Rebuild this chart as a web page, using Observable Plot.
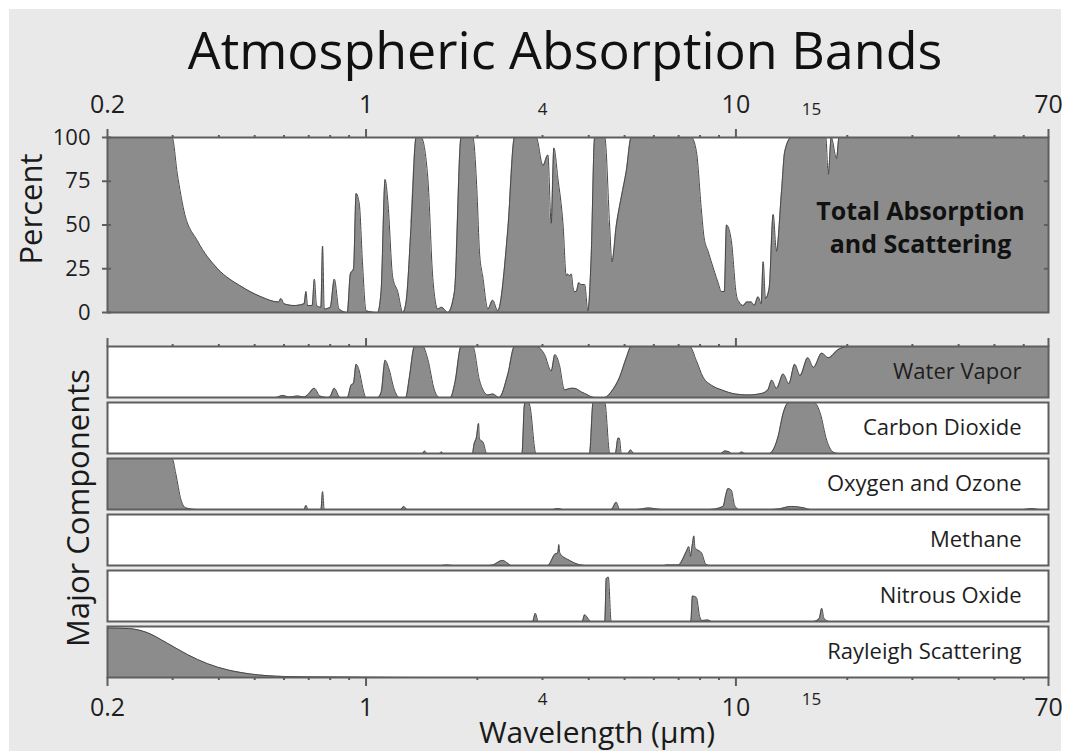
<!DOCTYPE html>
<html><head><meta charset="utf-8">
<script src="https://cdn.jsdelivr.net/npm/d3@7"></script>
<script src="https://cdn.jsdelivr.net/npm/@observablehq/plot@0.6"></script>
<style>
body{margin:0;background:#fff;font-family:"Open Sans",sans-serif;}
#wrap{position:relative;width:1067px;height:751px;overflow:hidden;background:#fff;}
#bg{position:absolute;left:9px;top:9px;right:6px;bottom:0;background:#e9e9e9;}
.lbl{position:absolute;color:#1a1a1a;white-space:nowrap;font-family:"Open Sans",sans-serif;}
.rot{transform:translate(-50%,-50%) rotate(-90deg);}
#title{left:0;width:1130px;text-align:center;top:23px;font-size:52px;line-height:52px;color:#111;}
#percent{left:30px;top:209px;font-size:31px;}
#major{left:77px;top:508px;font-size:31px;}
#wl{left:597px;top:717px;font-size:30px;line-height:30px;transform:translateX(-50%);}
.plot{position:absolute;left:0;width:1067px;}
.plot svg{overflow:visible;}
</style></head>
<body>
<div id="wrap">
<div id="bg"></div>
<div id="title" class="lbl">Atmospheric Absorption Bands</div>
<div id="percent" class="lbl rot">Percent</div>
<div id="major" class="lbl rot">Major Components</div>
<div id="topPlot" class="plot" style="top:0"></div>
<div id="botPlot" class="plot" style="top:330px"></div>
<div id="wl" class="lbl">Wavelength (µm)</div>
</div>
<script>
// ---- data: [wavelength (µm), value] ----
const totalAbsorption = [[0.2,100],[0.299,100],[0.309,79],[0.322,58],[0.35,41],[0.397,25],[0.459,15],[0.52,9],[0.58,6],[0.589,8],[0.60,5],[0.64,4],[0.68,5],[0.688,12],[0.695,4],[0.715,4],[0.725,19],[0.735,4],[0.755,3],[0.763,38],[0.771,2],[0.80,3],[0.821,19],[0.845,2],[0.89,0],[0.907,22],[0.925,25],[0.94,68],[0.959,62],[0.979,27],[1.0,1],[1.075,0],[1.098,12],[1.126,76],[1.145,64],[1.181,20],[1.218,12],[1.257,0],[1.283,6],[1.324,50],[1.366,100],[1.409,100],[1.469,77],[1.515,20],[1.563,2],[1.60,3],[1.664,0],[1.734,12],[1.807,100],[1.944,100],[1.997,67],[2.026,35],[2.07,20],[2.135,2],[2.20,7],[2.27,1],[2.418,48],[2.52,100],[2.884,100],[3.008,84],[3.102,90],[3.167,51],[3.22,94],[3.30,77],[3.41,50],[3.478,21],[3.51,22],[3.55,21],[3.588,22],[3.63,14],[3.66,12],[3.70,12],[3.76,17],[3.82,16],[3.90,16],[3.98,1],[4.06,31],[4.15,100],[4.42,100],[4.556,50],[4.62,29],[4.75,50],[4.90,66],[5.055,81],[5.21,100],[7.58,100],[7.82,92],[8.07,58],[8.2,43],[8.41,35],[8.55,30],[8.76,23],[8.95,17],[9.14,12],[9.3,12],[9.43,50],[9.72,41],[10.03,10],[10.2,6],[10.46,4],[10.7,6],[11.01,6],[11.2,4],[11.48,9],[11.7,5],[11.85,29],[12.02,8],[12.3,14],[12.61,56],[12.87,35],[13.28,69],[13.55,92],[14.13,100],[17.5,100],[17.77,79],[18.1,100],[18.71,88],[19.0,100],[70,100]];
const waterVapor = [[0.2,0],[0.57,0],[0.595,0.04],[0.62,0.01],[0.653,0.03],[0.68,0.01],[0.695,0.05],[0.725,0.18],[0.75,0.03],[0.79,0],[0.80,0.02],[0.821,0.18],[0.85,0],[0.89,0],[0.911,0.24],[0.925,0.28],[0.94,0.65],[0.959,0.52],[0.979,0.2],[1.0,0],[1.075,0],[1.10,0.12],[1.126,0.73],[1.15,0.59],[1.193,0.15],[1.23,0],[1.28,0],[1.31,0.4],[1.352,1],[1.424,1],[1.469,0.75],[1.53,0.15],[1.58,0],[1.69,0],[1.74,0.3],[1.807,1],[1.944,1],[2.026,0.34],[2.135,0.05],[2.20,0.07],[2.29,0],[2.418,0.46],[2.52,1],[2.884,1],[3.04,0.84],[3.167,0.52],[3.24,0.84],[3.33,0.65],[3.44,0.15],[3.588,0.18],[3.66,0.18],[3.82,0.11],[3.90,0.08],[4.15,0],[4.42,0],[4.60,0.11],[4.85,0.4],[5.055,0.78],[5.21,1],[7.50,1],[7.82,0.72],[8.15,0.4],[8.59,0.24],[9.14,0.15],[9.95,0.07],[10.78,0.05],[11.75,0.08],[12.2,0.15],[12.5,0.34],[12.87,0.18],[13.42,0.46],[13.9,0.27],[14.42,0.65],[14.9,0.43],[15.64,0.78],[16.2,0.59],[17.06,0.87],[17.77,0.78],[18.9,0.94],[20.1,1],[70,1]];
const carbonDioxide = [[0.2,0],[1.42,0],[1.44,0.05],[1.46,0],[1.58,0],[1.6,0.03],[1.62,0],[1.94,0],[1.956,0.16],[1.99,0.33],[2.015,0.59],[2.025,0.3],[2.04,0.26],[2.07,0.23],[2.12,0],[2.64,0],[2.68,0.95],[2.70,1],[2.74,1],[2.77,0.95],[2.88,0],[4.02,0],[4.11,1],[4.42,1],[4.56,0],[4.72,0],[4.80,0.3],[4.84,0.3],[4.9,0],[5.1,0],[5.19,0.07],[5.3,0],[9.1,0],[9.33,0.05],[9.6,0.03],[9.72,0],[10.2,0],[10.34,0.03],[10.6,0],[12.3,0],[13.0,0.33],[13.42,0.79],[13.9,1],[16.3,1],[16.9,0.79],[17.6,0.26],[18.3,0.03],[18.9,0],[70,0]];
const oxygenOzone = [[0.2,1],[0.299,1],[0.306,0.7],[0.316,0.19],[0.326,0.03],[0.35,0],[0.68,0],[0.688,0.08],[0.697,0],[0.755,0],[0.763,0.35],[0.771,0],[1.24,0],[1.265,0.06],[1.29,0],[3.2,0],[3.30,0.02],[3.4,0],[4.6,0],[4.75,0.14],[4.85,0],[5.4,0],[5.8,0.03],[6.3,0],[8.5,0],[9.23,0.06],[9.4,0.3],[9.52,0.41],[9.72,0.38],[9.9,0.1],[10.03,0.03],[10.2,0],[12.5,0],[13.0,0.01],[14.13,0.06],[15.3,0.03],[15.9,0],[60,0],[63,0.02],[66,0],[70,0]];
const methane = [[0.2,0],[1.6,0],[1.646,0.01],[1.72,0],[2.15,0],[2.20,0.01],[2.34,0.1],[2.42,0.04],[2.47,0],[3.1,0],[3.24,0.22],[3.30,0.25],[3.32,0.41],[3.34,0.25],[3.40,0.18],[3.51,0.12],[3.72,0.03],[3.93,0],[6.4,0],[6.49,0.01],[6.98,0.01],[7.35,0.28],[7.46,0.37],[7.53,0.18],[7.62,0.4],[7.7,0.58],[7.75,0.35],[7.85,0.31],[8.07,0.25],[8.3,0.02],[8.5,0],[70,0]];
const nitrousOxide = [[0.2,0],[2.82,0],[2.87,0.16],[2.92,0],[3.84,0],[3.90,0.13],[4.0,0.04],[4.05,0],[4.42,0],[4.46,0.84],[4.52,0.87],[4.60,0],[7.55,0],[7.63,0.5],[7.82,0.47],[7.98,0.1],[8.1,0.02],[8.4,0.03],[8.6,0],[16.2,0],[16.8,0.06],[17.06,0.26],[17.3,0.06],[17.9,0],[70,0]];
const rayleigh = [[0.2,0.97],[0.228,0.96],[0.256,0.88],[0.289,0.68],[0.329,0.45],[0.373,0.27],[0.422,0.15],[0.486,0.07],[0.601,0.02],[0.8,0.008],[1.0,0.004],[1.5,0],[70,0]];

const components = ["Water Vapor","Carbon Dioxide","Oxygen and Ozone","Methane","Nitrous Oxide","Rayleigh Scattering"];
const componentSeries = [waterVapor, carbonDioxide, oxygenOzone, methane, nitrousOxide, rayleigh];

const percentTicks = [0,25,50,75,100];
const minorTicks = [0.3,0.4,0.5,0.6,0.7,0.8,0.9,2,3,4,5,6,7,8,9,20,30,40,50,60];
const majorTicks = [0.2,1,10,69.99];
const bigLabelPos = [0.2,1,10,70];
const bigLabelText = ["0.2","1","10","70"];
const smallLabelPos = [3,16];
const smallLabelText = ["4","15"];

const FILL = "#8c8c8c", LINE = "#474747", FRAME = "#5e5e5e", INK = "#1e1e1e";
const X = {type:"log", domain:[0.2,70]};
const style = {background:"transparent", fontFamily:"Open Sans, sans-serif", color:INK, overflow:"visible"};
const blank = () => "";
const CURVE = "monotone-x";
const lastPanel = components[components.length - 1];

function tickAxes(anchor) {
  return [
    Plot.axisX({anchor, ticks:minorTicks, tickSize:3, tickFormat:blank, label:null, stroke:FRAME, strokeWidth:2}),
    Plot.axisX({anchor, ticks:majorTicks, tickSize:9, tickFormat:blank, label:null, stroke:FRAME, strokeWidth:2})
  ];
}
function tickLabels(anchor, extra) {
  const top = anchor === "top";
  return [
    Plot.text(bigLabelPos.map((p,i)=>({p, t:bigLabelText[i]})), {x:"p", text:"t", frameAnchor:anchor, lineAnchor:"middle", dy: top ? -33 : 30, fontSize:25, fill:INK, ...extra}),
    Plot.text(smallLabelPos.map((p,i)=>({p, t:smallLabelText[i]})), {x:"p", text:"t", frameAnchor:anchor, lineAnchor:"middle", dy: top ? -28 : 22, fontSize:17, fill:INK, ...extra})
  ];
}

const totalData = totalAbsorption.map(([w,v]) => ({w, v}));
const topChart = Plot.plot({
  width:1067, height:330, marginLeft:107, marginRight:19, marginTop:137, marginBottom:18,
  style, x:X, y:{domain:[0,100], axis:null},
  marks:[
    Plot.frame({fill:"white"}),
    Plot.areaY(totalData, {x:"w", y:"v", fill:FILL, curve:CURVE}),
    Plot.lineY(totalData, {x:"w", y:"v", stroke:LINE, strokeWidth:1, curve:CURVE}),
    Plot.frame({stroke:FRAME, strokeWidth:2}),
    Plot.axisY({anchor:"left", ticks:percentTicks, tickSize:9, dx:4, tickFormat:blank, label:null, stroke:FRAME, strokeWidth:2}),
    Plot.axisY({anchor:"left", ticks:percentTicks, tickSize:0, tickPadding:17, fontSize:22, label:null, fill:INK}),
    Plot.axisY({anchor:"right", ticks:[25,50,75], tickSize:5, dx:-5, tickFormat:blank, label:null, stroke:FRAME, strokeWidth:2}),
    ...tickAxes("top"),
    ...tickLabels("top", {}),
    Plot.text(["Total Absorption\nand Scattering"], {frameAnchor:"right", dx:-128, dy:1, textAnchor:"middle", fontWeight:"bold", fontSize:25, lineHeight:1.3, fill:"#111"})
  ]
});
document.getElementById("topPlot").append(topChart);

const compData = components.flatMap((c,k) => componentSeries[k].map(([w,v]) => ({c, w, v})));
const botChart = Plot.plot({
  width:1067, height:421, marginLeft:107, marginRight:19, marginTop:15, marginBottom:73,
  style, x:X, y:{domain:[0,1], axis:null},
  fy:{domain:components, axis:null, paddingInner:0.095, paddingOuter:0},
  marks:[
    Plot.frame({fill:"white"}),
    Plot.areaY(compData, {x:"w", y:"v", fy:"c", fill:FILL, curve:CURVE}),
    Plot.lineY(compData, {x:"w", y:"v", fy:"c", stroke:LINE, strokeWidth:1, curve:CURVE}),
    Plot.frame({stroke:FRAME, strokeWidth:2}),
    Plot.text(components, {fy:d=>d, text:d=>d, frameAnchor:"right", dx:-27, fontSize:22, fill:INK}),
    ...tickAxes("top"),
    ...tickAxes("bottom"),
    ...tickLabels("bottom", {fy: () => lastPanel})
  ]
});
document.getElementById("botPlot").append(botChart);
</script>
</body></html>
